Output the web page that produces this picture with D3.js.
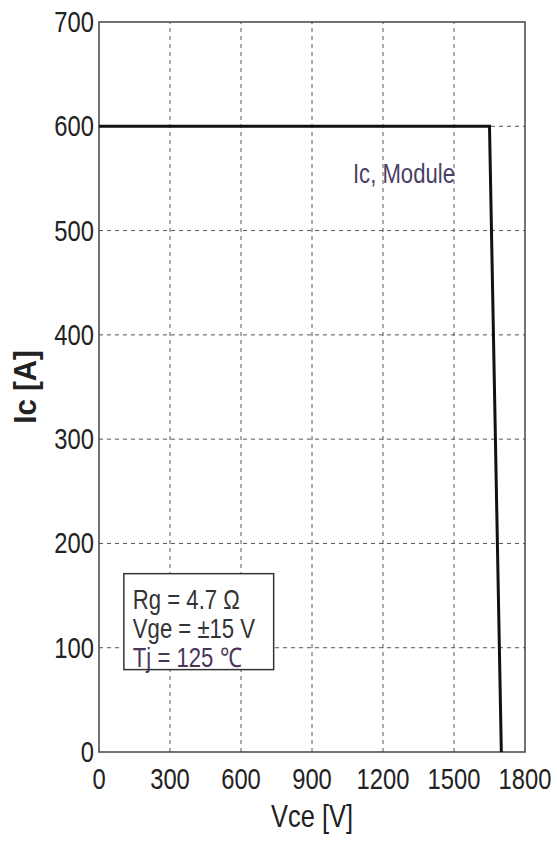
<!DOCTYPE html>
<html>
<head>
<meta charset="utf-8">
<script src="https://cdn.jsdelivr.net/npm/d3@7/dist/d3.min.js"></script>
<style>
  html, body { margin: 0; padding: 0; background: #fff; }
  svg { display: block; }
</style>
</head>
<body>
<div id="chart"></div>
<script>
// RBSOA-style curve: Ic vs Vce for the module.
const curveVce = [0, 1650, 1675, 1700];
const curveIc = [600, 600, 300, 0];
const xTicks = [0, 300, 600, 900, 1200, 1500, 1800];
const yTicks = [0, 100, 200, 300, 400, 500, 600, 700];
const curveLabel = "Ic, Module";
const boxLines = ["Rg = 4.7 Ω", "Vge = ±15 V", "Tj = 125 ℃"];

const W = 557, H = 841;
const M = { top: 22, right: 32, bottom: 89, left: 99 };
const FONT = "'Liberation Sans', Arial, sans-serif";
const NARROW = 0.82;   // reference uses a condensed face; squeeze Liberation Sans

const svg = d3.select("#chart").append("svg")
  .attr("width", W).attr("height", H);

const x = d3.scaleLinear().domain([0, 1800]).range([M.left, W - M.right]);
const y = d3.scaleLinear().domain([0, 700]).range([H - M.bottom, M.top]);

// place text at (px,py) squeezed horizontally
const at = (px, py) => `translate(${px},${py}) scale(${NARROW},1)`;

// dashed grid
const grid = svg.append("g").attr("stroke", "#555").attr("stroke-width", 1)
  .attr("stroke-dasharray", "4,4");
grid.selectAll("line.v").data(xTicks.slice(1, -1)).join("line")
  .attr("x1", d => x(d)).attr("x2", d => x(d))
  .attr("y1", y(0)).attr("y2", y(700));
grid.selectAll("line.h").data(yTicks.slice(1, -1)).join("line")
  .attr("x1", x(0)).attr("x2", x(1800))
  .attr("y1", d => y(d)).attr("y2", d => y(d));

// frame
svg.append("rect")
  .attr("x", x(0)).attr("y", y(700))
  .attr("width", x(1800) - x(0)).attr("height", y(0) - y(700))
  .attr("fill", "none").attr("stroke", "#444").attr("stroke-width", 1.5);

// tick labels (no tick marks in the reference)
svg.append("g").selectAll("text").data(xTicks).join("text")
  .attr("transform", d => at(x(d), y(0) + 37))
  .attr("text-anchor", "middle")
  .attr("font-family", FONT).attr("font-size", 29).attr("fill", "#222")
  .text(d => d);
svg.append("g").selectAll("text").data(yTicks).join("text")
  .attr("transform", d => at(x(0) - 5, y(d) + 10))
  .attr("text-anchor", "end")
  .attr("font-family", FONT).attr("font-size", 29).attr("fill", "#222")
  .text(d => d);

// axis titles
svg.append("text")
  .attr("transform", at((x(0) + x(1800)) / 2, H - 14))
  .attr("text-anchor", "middle")
  .attr("font-family", FONT).attr("font-size", 31).attr("fill", "#222")
  .text("Vce [V]");
svg.append("text")
  .attr("transform", `translate(36,${(y(0) + y(700)) / 2}) rotate(-90) scale(0.92,1)`)
  .attr("text-anchor", "middle")
  .attr("font-family", FONT).attr("font-size", 32).attr("font-weight", 700).attr("fill", "#222")
  .text("Ic [A]");

// curve
const line = d3.line().x((d, i) => x(curveVce[i])).y(d => y(d));
svg.append("path").datum(curveIc)
  .attr("d", line)
  .attr("fill", "none").attr("stroke", "#111").attr("stroke-width", 3);

svg.append("text")
  .attr("transform", at(x(1073), y(546)))
  .attr("font-family", FONT).attr("font-size", 27).attr("fill", "#4a3f66")
  .text(curveLabel);

// condition box
const bx = x(105), bw = x(738) - x(105);
const by = y(171), bh = y(79) - y(171);
svg.append("rect").attr("x", bx).attr("y", by).attr("width", bw).attr("height", bh)
  .attr("fill", "#fff").attr("stroke", "#333").attr("stroke-width", 1.5);
svg.append("g").selectAll("text").data(boxLines).join("text")
  .attr("transform", (d, i) => at(bx + 9, by + 35 + i * 29))
  .attr("font-family", FONT).attr("font-size", 27)
  .attr("fill", (d, i) => i === 2 ? "#4a3458" : "#333")
  .text(d => d);
</script>
</body>
</html>
